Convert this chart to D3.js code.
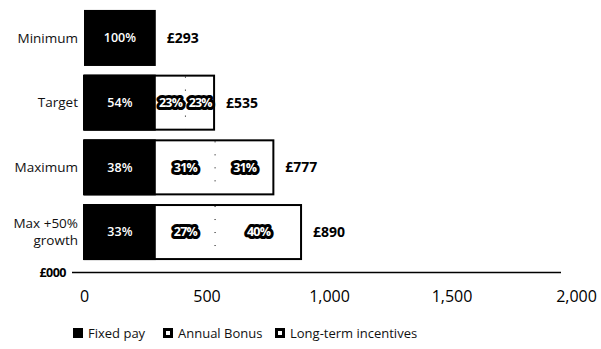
<!DOCTYPE html>
<html><head><meta charset="utf-8">
<script src="https://cdn.jsdelivr.net/npm/d3@7"></script>
<style>body{margin:0;background:#fff}svg{display:block;font-family:"Open Sans",sans-serif}</style>
</head><body><svg id="c" width="601" height="349"></svg>
<script>
const categories = ["Minimum", "Target", "Maximum", "Max +50%\ngrowth"];
const fixedPay = [293, 293, 293, 293];
const annualBonus = [0, 121, 242, 242];
const longTerm = [0, 121, 242, 355];
const fixedPct = ["100%", "54%", "38%", "33%"];
const bonusPct = ["", "23%", "31%", "27%"];
const ltiPct = ["", "23%", "31%", "40%"];
const totals = ["£293", "£535", "£777", "£890"];
const xTicks = [0, 500, 1000, 1500, 2000];
const seriesNames = ["Fixed pay", "Annual Bonus", "Long-term incentives"];

const svg = d3.select("#c");
const x = d3.scaleLinear().domain([0, 2000]).range([84, 574]);
const y = d3.scaleBand().domain(d3.range(categories.length)).range([5.6, 264.4]).paddingInner(0.134).paddingOuter(0.067);
const bw = y.bandwidth();

categories.forEach((c, i) => {
  const y0 = y(i);
  const f = fixedPay[i], b = annualBonus[i], l = longTerm[i];
  const total = f + b + l;
  if (b + l > 0) {
    svg.append("rect").attr("x", x(0)).attr("y", y0 + 1).attr("width", x(total) - x(0) - 1).attr("height", bw - 2)
      .attr("fill", "#fff").attr("stroke", "#000").attr("stroke-width", 2);
    svg.append("line").attr("x1", x(f + b)).attr("x2", x(f + b)).attr("y1", y0 + 2).attr("y2", y0 + bw - 2)
      .attr("stroke", "#000").attr("stroke-width", 1).attr("stroke-dasharray", "1,12");
  }
  svg.append("rect").attr("x", x(0)).attr("y", y0).attr("width", x(f) - x(0)).attr("height", bw).attr("fill", "#000");
  const cy = y0 + bw / 2;
  svg.append("text").attr("x", (x(0) + x(f)) / 2).attr("y", cy).attr("dy", "0.35em").attr("text-anchor", "middle")
    .attr("fill", "#fff").attr("font-size", 12.5).attr("font-weight", 600).text(fixedPct[i]);
  [[b, f, bonusPct[i]], [l, f + b, ltiPct[i]]].forEach(([v, start, lab]) => {
    if (!v) return;
    const tx = (x(start) + x(start + v)) / 2;
    svg.append("text").attr("x", tx).attr("y", cy).attr("dy", "0.35em").attr("text-anchor", "middle")
      .attr("fill", "#000").attr("stroke", "#000").attr("stroke-width", 6).attr("stroke-linejoin", "round")
      .attr("font-size", 12.5).attr("font-weight", 700).attr("letter-spacing", -0.8).text(lab);
    svg.append("text").attr("x", tx).attr("y", cy).attr("dy", "0.35em").attr("text-anchor", "middle")
      .attr("fill", "#fff").attr("font-size", 12.5).attr("font-weight", 700).attr("letter-spacing", -0.8).text(lab);
  });
  svg.append("text").attr("x", x(total) + 11).attr("y", cy).attr("dy", "0.35em")
    .attr("fill", "#000").attr("font-size", 14).attr("font-weight", 700).text(totals[i]);
  const lines = c.split("\n");
  const t = svg.append("text").attr("text-anchor", "end").attr("font-size", 13.5).attr("fill", "#111");
  lines.forEach((ln, k) => {
    t.append("tspan").attr("x", 78).attr("y", cy + (k - (lines.length - 1) / 2) * 17).attr("dy", "0.35em").text(ln);
  });
});

svg.append("line").attr("x1", 72).attr("x2", 561).attr("y1", 272.5).attr("y2", 272.5).attr("stroke", "#000").attr("stroke-width", 1.5);
svg.append("text").attr("x", 66).attr("y", 273).attr("dy", "0.35em").attr("text-anchor", "end")
  .attr("font-size", 12.5).attr("font-weight", 700).attr("letter-spacing", -0.5).text("£000");

const ax = svg.append("g").attr("transform", "translate(0,291)")
  .call(d3.axisBottom(x).tickValues(xTicks).tickSize(0).tickPadding(0).tickFormat(d3.format(",")));
ax.select(".domain").remove();
ax.selectAll("text").attr("font-size", 16).attr("fill", "#000").attr("font-family", "Open Sans, sans-serif");
ax.selectAll(".tick").filter(d => d === 2000).select("text").attr("dx", 2);

const legX = [73, 163, 275];
seriesNames.forEach((n, i) => {
  const g = svg.append("g").attr("transform", `translate(${legX[i]},328)`);
  if (i === 0) g.append("rect").attr("width", 10).attr("height", 10).attr("fill", "#000");
  else g.append("rect").attr("x", 1.5).attr("y", 1.5).attr("width", 7).attr("height", 7).attr("fill", "#fff").attr("stroke", "#000").attr("stroke-width", 3);
  g.append("text").attr("x", 15).attr("y", 5).attr("dy", "0.35em").attr("font-size", 13).attr("fill", "#111").text(n);
});
</script></body></html>
